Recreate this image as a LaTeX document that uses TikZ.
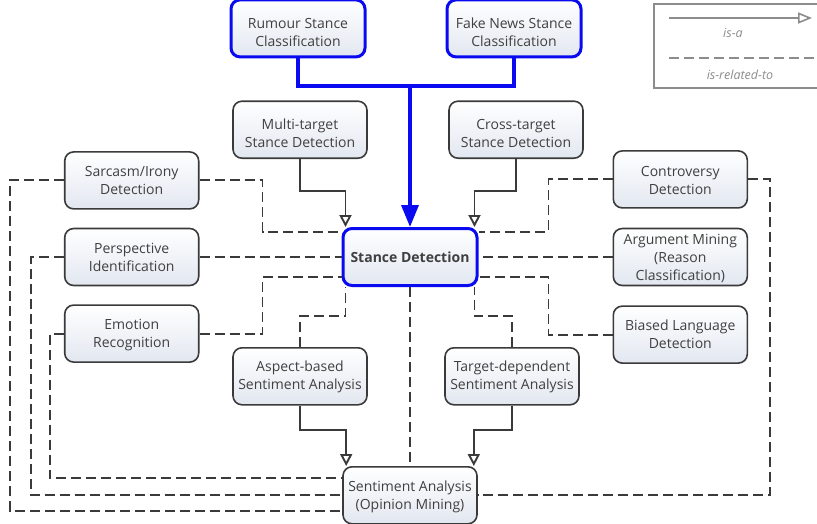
\documentclass[tikz,border=0pt]{standalone}
\usepackage{fontspec}
\setmainfont{Open Sans}
\usetikzlibrary{positioning}
\usetikzlibrary{calc}
\usetikzlibrary{arrows.meta}
\definecolor{boxline}{HTML}{3A3A3A}
\definecolor{boxtext}{HTML}{404040}
\definecolor{boxfill}{HTML}{E2E7F0}
\definecolor{stanceblue}{HTML}{0A0AF0}
\definecolor{legendgray}{HTML}{8C8C8C}

\begin{document}
\begin{tikzpicture}[x=1pt,y=-1pt,align=center,font=\fontsize{14}{18}\selectfont,
	cnode/.style={rectangle,rounded corners=9pt,draw=boxline,line width=1.6pt,top color=white,bottom color=boxfill,text=boxtext,minimum width=134pt,minimum height=57pt,inner sep=1pt,text height=36pt,text depth=0pt},
	bnode/.style={cnode,draw=stanceblue,line width=3pt},
	dnode/.style={cnode,text depth=8pt},
	isa/.style={draw=boxline,line width=1.9pt,-{Triangle[open,length=12pt,width=12pt]}},
	rel/.style={draw=boxline,line width=1.9pt,dash pattern=on 10pt off 5pt},
	blueline/.style={draw=stanceblue,line width=3.5pt},
	legtext/.style={text=legendgray,font=\fontsize{12.5}{14}\selectfont\itshape},
	node distance = 60pt and 60pt]
		\useasboundingbox (0,0) rectangle (817,523);
		\node[bnode,text height=,text depth=] (stance) at (410,257){\textbf{Stance Detection}};
		\node[dnode] (sent)[below = 179pt of stance]{Sentiment Analysis\\(Opinion Mining)};
		\node[cnode] (multi)[above = 68pt of stance,xshift=-110pt]{Multi-target\\Stance Detection};
		\node[cnode] (cross)[above = 68pt of stance,xshift=106pt]{Cross-target\\Stance Detection};
		\node[bnode] (rumour)[above = 42pt of multi,xshift=-2pt]{Rumour Stance\\Classification};
		\node[bnode] (fake)[above = 42pt of cross,xshift=-2pt]{Fake News Stance\\Classification};
		\node[dnode] (persp)[left = 142pt of stance]{Perspective\\Identification};
		\node[dnode] (sarcasm)[above = 18pt of persp]{Sarcasm/Irony\\Detection};
		\node[dnode] (emotion)[below = 18pt of persp]{Emotion\\Recognition};
		\node[cnode,text height=46pt] (argue)[right = 134pt of stance]{Argument Mining\\(Reason\\Classification)};
		\node[dnode,text depth=6pt] (contro)[above = 19pt of argue]{Controversy\\Detection};
		\node[dnode] (biased)[below = 19pt of argue]{Biased Language\\Detection};
		\node[dnode,text depth=10pt] (aspect)[below = 60pt of stance,xshift=-110pt]{Aspect-based\\Sentiment Analysis};
		\node[dnode,text depth=10pt] (target)[below = 60pt of stance,xshift=102pt]{Target-dependent\\Sentiment Analysis};
		% legend
		\node[draw=legendgray,line width=1.5pt,minimum width=170pt,minimum height=84pt] (legend) at (739,46){};
		\coordinate (isastart) at (669,18);
		\coordinate (isaend) at (812,18);
		\coordinate (relstart) at (669,58);
		\coordinate (relend) at (814,58);
		\draw[draw=legendgray,line width=1.6pt,-{Triangle[open,length=14pt,width=11pt]}] (isastart) -- (isaend);
		\draw[draw=legendgray,line width=1.6pt,dash pattern=on 10pt off 5pt] (relstart) -- (relend);
		\node[legtext] (isalabel) at (733,33){is-a};
		\node[legtext] (rellabel) at (740,75){is-related-to};
		% is-a
		\coordinate (junc) at ($(stance.north)+(0,-141)$);
		\draw[blueline] (rumour.south) |- (junc) -| (fake.south);
		\draw[blueline,-{Triangle[length=22pt,width=17pt]}] (junc) -- (stance.north);
		\draw[isa] (multi.south) -- ++(0,32) -| ($(stance.north west)+(4,0)$);
		\draw[isa] (cross.south) -- ++(0,32) -| ($(stance.north east)+(-4,0)$);
		\draw[isa] (aspect.south) -- ++(0,24) -| ($(sent.north west)+(4,0)$);
		\draw[isa] (target.south) -- ++(0,24) -| ($(sent.north east)+(-4,0)$);
		% is-related-to
		\draw[rel] (sarcasm.east) -- ++(63,0) |- ($(stance.west)+(0,-25)$);
		\draw[rel] (persp.east) -- (stance.west);
		\draw[rel] (emotion.east) -- ++(63,0) |- ($(stance.west)+(0,20)$);
		\draw[rel] (contro.west) -- ++(-64,0) |- ($(stance.east)+(0,-25)$);
		\draw[rel] (argue.west) -- (stance.east);
		\draw[rel] (biased.west) -- ++(-64,0) |- ($(stance.east)+(0,20)$);
		\draw[rel] (aspect.north) -- ++(0,-31) -| ($(stance.south west)+(4,0)$);
		\draw[rel] (target.north) -- ++(0,-31) -| ($(stance.south east)+(-4,0)$);
		\draw[rel] (stance.south) -- (sent.north);
		\draw[rel] (emotion.west) -- ++(-14,0) |- ($(sent.west)+(0,-17)$);
		\draw[rel] (persp.west) -- ++(-33,0) |- (sent.west);
		\draw[rel] (sarcasm.west) -- ++(-54,0) |- ($(sent.west)+(0,16)$);
		\draw[rel] (contro.east) -- ++(22,0) |- (sent.east);
	\end{tikzpicture}
\end{document}
